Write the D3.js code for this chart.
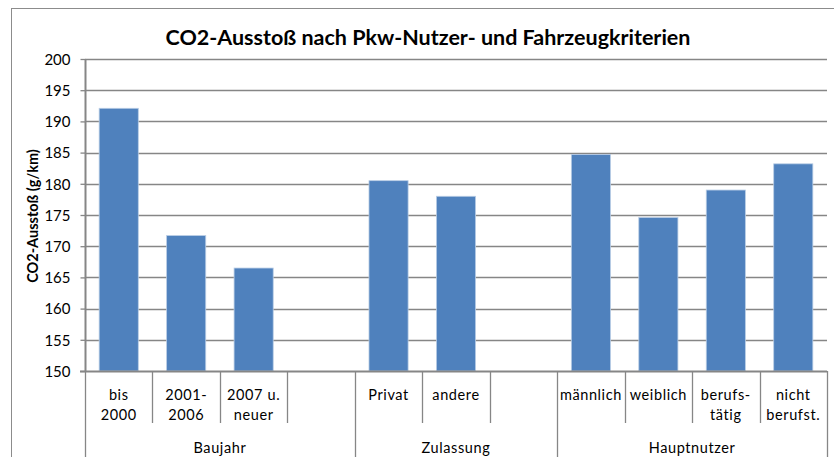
<!DOCTYPE html>
<html>
<head>
<meta charset="utf-8">
<script src="https://cdn.jsdelivr.net/npm/d3@7"></script>
<style>
  body { margin: 0; background: #fff; }
  text { font-family: Lato, "Noto Sans", sans-serif; fill: #000; }
  .tick-label { font-size: 15px; }
  .cat-label { font-size: 14.5px; letter-spacing: 0.6px; }
  .title { font-size: 21.5px; font-weight: bold; }
  .axis-label { font-size: 14.5px; font-weight: bold; }
</style>
</head>
<body>
<div id="chart"></div>
<script>
const categories = ["bis\n2000", "2001-\n2006", "2007 u.\nneuer", "", "Privat", "andere", "",
                    "männlich", "weiblich", "berufs-\ntätig", "nicht\nberufst."];
const values = [192.1, 171.7, 166.5, null, 180.5, 178.0, null, 184.7, 174.6, 179.0, 183.2];
const groups = ["Baujahr", "Zulassung", "Hauptnutzer"];
const groupSizes = [4, 3, 4];
const yTicks = [150, 155, 160, 165, 170, 175, 180, 185, 190, 195, 200];

const width = 834, height = 457;
const plot = { left: 85, right: 827, top: 59, bottom: 371 };
const gridColor = "#868686";
const barColor = "#4f81bd";

const svg = d3.select("#chart")
    .append("svg")
    .attr("width", width)
    .attr("height", height);

// chart frame
svg.append("rect")
    .attr("x", 11.5).attr("y", 8.5)
    .attr("width", 840).attr("height", 470)
    .attr("fill", "#fff")
    .attr("stroke", "#8c8c8c");

const ids = categories.map((d, i) => i);

const xCat = d3.scaleBand()
    .domain(ids)
    .range([plot.left, plot.right])
    .padding(0);

const xBar = d3.scaleBand()
    .domain(ids)
    .range([plot.left, plot.right])
    .paddingInner(0.42)
    .paddingOuter(0.21);

const yScale = d3.scaleLinear()
    .domain([150, 200])
    .range([plot.bottom, plot.top]);

// gridlines
svg.append("g")
    .selectAll("line")
    .data(yTicks.slice(1))
    .join("line")
    .attr("x1", plot.left).attr("x2", plot.right)
    .attr("y1", d => Math.round(yScale(d)) + 0.5)
    .attr("y2", d => Math.round(yScale(d)) + 0.5)
    .attr("stroke", gridColor)
    .attr("stroke-width", 1.3);

// bars
svg.append("g")
    .selectAll("rect")
    .data(ids.filter(i => values[i] != null))
    .join("rect")
    .attr("x", i => xBar(i))
    .attr("y", i => yScale(values[i]))
    .attr("width", xBar.bandwidth())
    .attr("height", i => yScale(150) - yScale(values[i]))
    .attr("fill", barColor)
    .attr("stroke", "#b9cde5")
    .attr("stroke-width", 0.8);

// y axis
const leftAxis = d3.axisLeft(yScale)
    .tickValues(yTicks)
    .tickSize(5)
    .tickPadding(10)
    .tickFormat(d3.format("d"));

const yAxisG = svg.append("g")
    .attr("transform", `translate(${plot.left + 0.5},0)`)
    .call(leftAxis);
yAxisG.select(".domain").attr("stroke", gridColor).attr("stroke-width", 2)
    .attr("d", `M0,${plot.top}V${plot.bottom}`);
yAxisG.selectAll(".tick line").attr("stroke", gridColor).attr("stroke-width", 1.3);
yAxisG.selectAll(".tick text")
    .attr("class", "tick-label")
    .attr("font-family", null).attr("font-size", null)
    .attr("dy", "0.35em");

// x axis baseline
svg.append("line")
    .attr("x1", plot.left - 5).attr("x2", plot.right)
    .attr("y1", plot.bottom + 0.5).attr("y2", plot.bottom + 0.5)
    .attr("stroke", gridColor)
    .attr("stroke-width", 2);

// category separators
const groupStarts = d3.cumsum([0, ...groupSizes]);
const boundaries = d3.range(categories.length + 1);
svg.append("g")
    .selectAll("line")
    .data(boundaries)
    .join("line")
    .attr("x1", i => Math.round(i < categories.length ? xCat(i) : plot.right) + 0.5)
    .attr("x2", i => Math.round(i < categories.length ? xCat(i) : plot.right) + 0.5)
    .attr("y1", plot.bottom)
    .attr("y2", i => groupStarts.includes(i) ? height + 5 : 423)
    .attr("stroke", gridColor)
    .attr("stroke-width", 1.3);

// category labels
const catText = svg.append("g")
    .selectAll("text")
    .data(ids)
    .join("text")
    .attr("class", "cat-label")
    .attr("text-anchor", "middle")
    .attr("x", i => xCat(i) + xCat.bandwidth() / 2)
    .attr("y", 400);
catText.selectAll("tspan")
    .data(i => categories[i].split("\n"))
    .join("tspan")
    .attr("x", function () { return d3.select(this.parentNode).attr("x"); })
    .attr("dy", (d, j) => j === 0 ? 0 : 20)
    .text(d => d);

// group labels
svg.append("g")
    .selectAll("text")
    .data(groups)
    .join("text")
    .attr("class", "cat-label")
    .attr("text-anchor", "middle")
    .attr("x", (d, k) => (xCat(groupStarts[k]) + (groupStarts[k + 1] < categories.length ? xCat(groupStarts[k + 1]) : plot.right)) / 2)
    .attr("y", 453)
    .text(d => d);

// title
svg.append("text")
    .attr("class", "title")
    .attr("x", 428)
    .attr("y", 45)
    .attr("text-anchor", "middle")
    .text("CO2-Ausstoß nach Pkw-Nutzer- und Fahrzeugkriterien");

// y axis label
svg.append("text")
    .attr("class", "axis-label")
    .attr("transform", `translate(38,216) rotate(-90)`)
    .attr("text-anchor", "middle")
    .text("CO2-Ausstoß (g/km)");
</script>
</body>
</html>
